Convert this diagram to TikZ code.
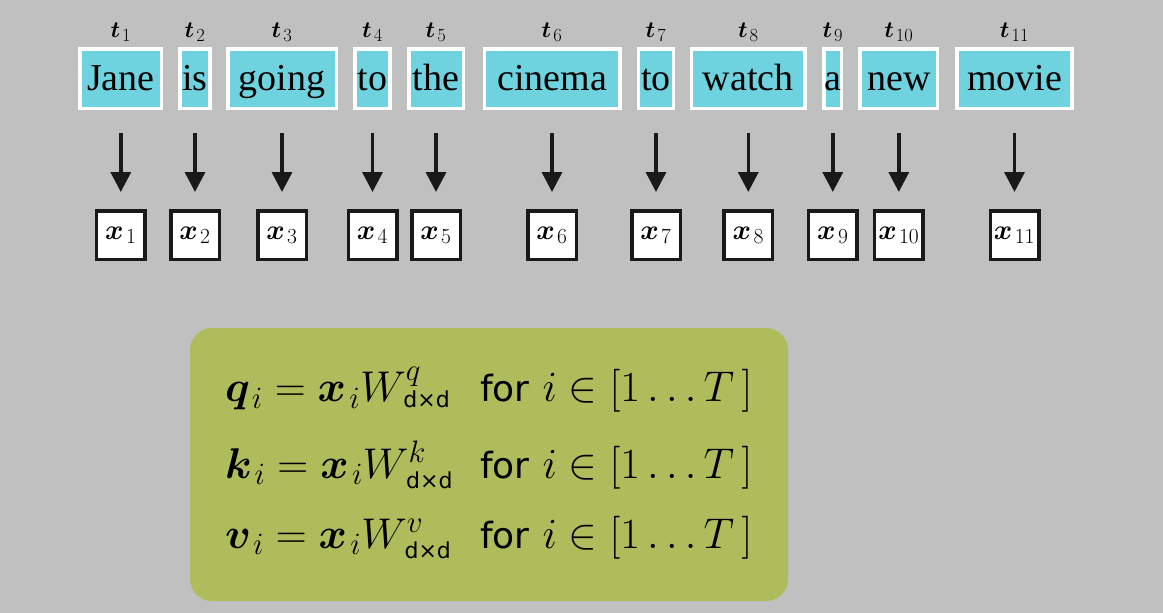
\documentclass[tikz,border=0pt]{standalone}
\usepackage{fix-cm}
\usepackage{amsmath}
\usepackage{bm}
\usepackage{fontspec}
\usetikzlibrary{arrows.meta}
\newfontfamily\wordfont{Liberation Serif}
\newfontfamily\labelsans{DejaVu Sans}

% larger script sizes for the big labels
\DeclareMathSizes{23}{23}{18.5}{13}
\DeclareMathSizes{28}{28}{21.5}{15}
\DeclareMathSizes{43}{43}{31}{22}

\definecolor{bggray}{RGB}{192,192,192}
\definecolor{tokcyan}{RGB}{110,211,222}
\definecolor{panelgreen}{RGB}{174,188,92}

\tikzset{
  wordbox/.style={draw=white, line width=3.5pt, fill=tokcyan, inner xsep=0pt, inner ysep=0pt,
    minimum height=59.5pt, text height=30pt, text depth=7pt,
    font=\wordfont\fontsize{38}{40}\selectfont},
  toklabel/.style={anchor=base, inner sep=0pt, font=\fontsize{23}{25}\selectfont},
  vecbox/.style={draw=black!90, line width=3.5pt, fill=white, inner sep=0pt, minimum size=48.5pt,
    font=\fontsize{28}{30}\selectfont},
  embarrow/.style={line width=3.5pt, draw=black!90, -{Triangle[length=20pt,width=20pt]},
    shorten <=23pt, shorten >=17pt},
  eqpart/.style={anchor=base west, inner sep=0pt, font=\fontsize{43}{46}\selectfont}
}
\newcommand{\dxd}{\text{\labelsans\fontsize{22}{24}\selectfont d×d}}
\newcommand{\forword}{{\labelsans\fontsize{36}{40}\selectfont for}}

\begin{document}
\begin{tikzpicture}[x=1pt,y=-1pt]
  \fill[bggray] (0,0) rectangle (1163,613);
  \useasboundingbox (0,0) rectangle (1163,613);

  % tokens, their labels, embedding boxes and arrows
  \foreach \k/\cx/\w/\word in {
      1/120.8/85/Jane, 2/195/33.5/is, 3/282/112/going, 4/372.5/38.4/to,
      5/436/58/the, 6/552/139/cinema, 7/656/38.3/to, 8/748.3/116.7/watch,
      9/832.8/21/a, 10/898.8/81/new, 11/1014.5/118.3/movie} {
    \node[wordbox, minimum width={\w-3.5}] (w\k) at (\cx,78.5) {\word};
    \node[toklabel] (t\k) at (\cx,37) {$\bm{t}_{\mkern2mu\k}$};
    \node[vecbox] (x\k) at (\cx,235) {$\bm{x}_{\mkern2mu\k}$};
    \draw[embarrow] (w\k.south) -- (x\k.north);
  }

  % projection panel
  \fill[panelgreen, rounded corners=22pt] (190,328) rectangle (788,601);

  \node[eqpart] (lq) at (225,401.7) {$\bm{q}_{\mkern2mu i} = \bm{x}_{\mkern2mu i} W^{q}_{\mkern2mu\dxd}$};
  \node[eqpart] (rq) at (480,401.7) {\forword\ $i \in [1 \ldots T\mkern3mu]$};
  \node[eqpart] (lk) at (225,478) {$\bm{k}_{\mkern2mu i} = \bm{x}_{\mkern2mu i} W^{k}_{\mkern2mu\dxd}$};
  \node[eqpart] (rk) at (480,478) {\forword\ $i \in [1 \ldots T\mkern3mu]$};
  \node[eqpart] (lv) at (225,548) {$\bm{v}_{\mkern2mu i} = \bm{x}_{\mkern2mu i} W^{v}_{\mkern2mu\dxd}$};
  \node[eqpart] (rv) at (480,548) {\forword\ $i \in [1 \ldots T\mkern3mu]$};
\end{tikzpicture}
\end{document}
